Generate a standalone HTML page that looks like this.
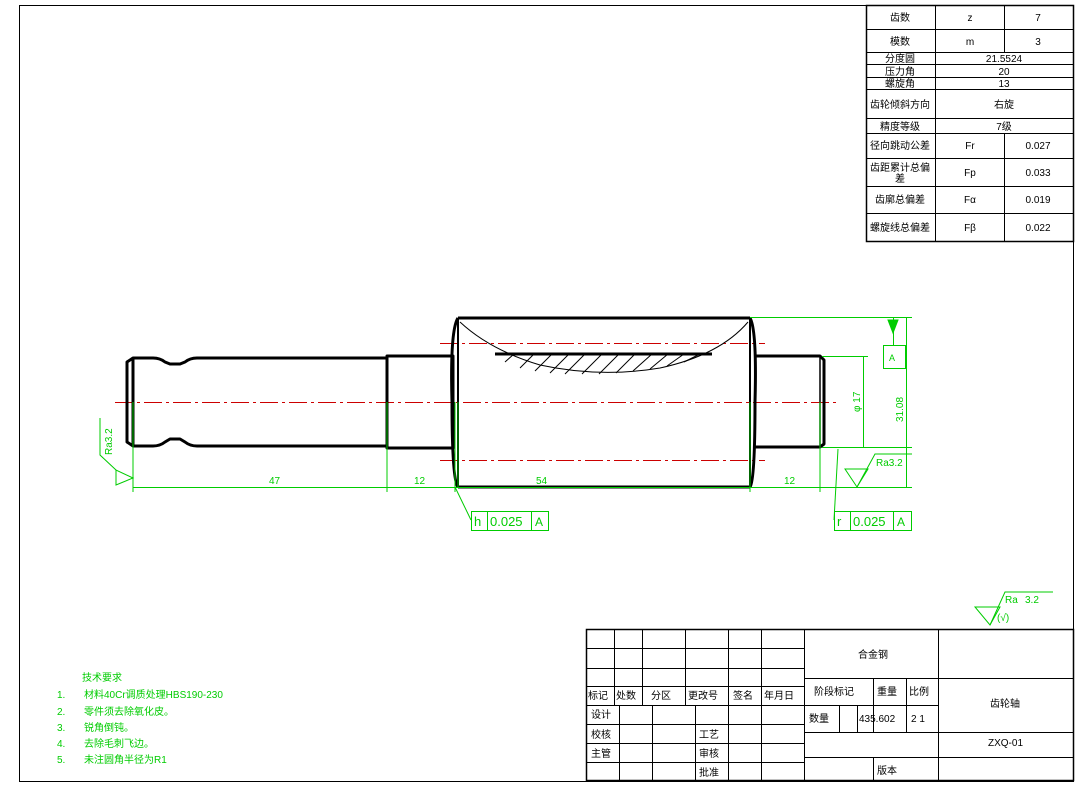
<!DOCTYPE html>
<html><head><meta charset="utf-8"><style>
html,body{margin:0;padding:0;background:#fff;}
svg{display:block;}
text{font-family:"Liberation Sans","Noto Sans CJK SC",sans-serif;}
</style></head><body>
<svg width="1083" height="787" viewBox="0 0 1083 787" xmlns="http://www.w3.org/2000/svg">
<rect x="19.5" y="5.5" width="1054" height="776" fill="none" stroke="#000" stroke-width="1"/>

<!-- parameter table -->
<g stroke="#000" stroke-width="1" fill="none">
<rect x="866.5" y="5.5" width="207" height="236" stroke-width="1.5"/>
<line x1="866" y1="29.5" x2="1073" y2="29.5"/>
<line x1="866" y1="52.5" x2="1073" y2="52.5"/>
<line x1="866" y1="64.5" x2="1073" y2="64.5"/>
<line x1="866" y1="77.5" x2="1073" y2="77.5"/>
<line x1="866" y1="89.5" x2="1073" y2="89.5"/>
<line x1="866" y1="118.5" x2="1073" y2="118.5"/>
<line x1="866" y1="133.5" x2="1073" y2="133.5"/>
<line x1="866" y1="158.5" x2="1073" y2="158.5"/>
<line x1="866" y1="186.5" x2="1073" y2="186.5"/>
<line x1="866" y1="213.5" x2="1073" y2="213.5"/>
<line x1="935.5" y1="5" x2="935.5" y2="241"/>
<line x1="1004.5" y1="5" x2="1004.5" y2="52"/>
<line x1="1004.5" y1="133" x2="1004.5" y2="241"/>
</g>
<g font-size="10" fill="#000" text-anchor="middle">
<text x="900" y="21">齿数</text><text x="970" y="21">z</text><text x="1038" y="21">7</text>
<text x="900" y="45">模数</text><text x="970" y="45">m</text><text x="1038" y="45">3</text>
<text x="900" y="62">分度圆</text><text x="1004" y="62">21.5524</text>
<text x="900" y="75">压力角</text><text x="1004" y="75">20</text>
<text x="900" y="87">螺旋角</text><text x="1004" y="87">13</text>
<text x="900" y="108">齿轮倾斜方向</text><text x="1004" y="108">右旋</text>
<text x="900" y="130">精度等级</text><text x="1004" y="130">7级</text>
<text x="900" y="149">径向跳动公差</text><text x="970" y="149">Fr</text><text x="1038" y="149">0.027</text>
<text x="900" y="171">齿距累计总偏</text><text x="900" y="182">差</text><text x="970" y="176">Fp</text><text x="1038" y="176">0.033</text>
<text x="900" y="203">齿廓总偏差</text><text x="970" y="203">Fα</text><text x="1038" y="203">0.019</text>
<text x="900" y="231">螺旋线总偏差</text><text x="970" y="231">Fβ</text><text x="1038" y="231">0.022</text>
</g>

<!-- title block -->
<g stroke="#000" stroke-width="1" fill="none">
<rect x="586.5" y="629.5" width="487" height="151" stroke-width="1.5"/>
<line x1="586" y1="648.5" x2="804" y2="648.5"/>
<line x1="586" y1="668.5" x2="804" y2="668.5"/>
<line x1="586" y1="686.5" x2="804" y2="686.5"/>
<line x1="586" y1="705.5" x2="804" y2="705.5"/>
<line x1="586" y1="724.5" x2="804" y2="724.5"/>
<line x1="586" y1="743.5" x2="804" y2="743.5"/>
<line x1="586" y1="762.5" x2="804" y2="762.5"/>
<line x1="614.5" y1="629" x2="614.5" y2="705"/>
<line x1="642.5" y1="629" x2="642.5" y2="705"/>
<line x1="685.5" y1="629" x2="685.5" y2="705"/>
<line x1="619.5" y1="705" x2="619.5" y2="781"/>
<line x1="652.5" y1="705" x2="652.5" y2="781"/>
<line x1="695.5" y1="705" x2="695.5" y2="781"/>
<line x1="728.5" y1="629" x2="728.5" y2="781"/>
<line x1="761.5" y1="629" x2="761.5" y2="781"/>
<line x1="804.5" y1="629" x2="804.5" y2="781"/>
<line x1="938.5" y1="629" x2="938.5" y2="781"/>
<line x1="804" y1="678.5" x2="1073" y2="678.5"/>
<line x1="804" y1="705.5" x2="938" y2="705.5"/>
<line x1="804" y1="732.5" x2="1073" y2="732.5"/>
<line x1="804" y1="757.5" x2="1073" y2="757.5"/>
<line x1="873.5" y1="678" x2="873.5" y2="732"/>
<line x1="906.5" y1="678" x2="906.5" y2="732"/>
<line x1="839.5" y1="705" x2="839.5" y2="732"/>
<line x1="857.5" y1="705" x2="857.5" y2="732"/>
<line x1="873.5" y1="757" x2="873.5" y2="781"/>
</g>
<g font-size="10" fill="#000">
<text x="588" y="699">标记</text><text x="616" y="699">处数</text><text x="651" y="699">分区</text>
<text x="688" y="699">更改号</text><text x="733" y="699">签名</text><text x="764" y="699">年月日</text>
<text x="591" y="718">设计</text><text x="591" y="738">校核</text><text x="591" y="757">主管</text>
<text x="699" y="738">工艺</text><text x="699" y="757">审核</text><text x="699" y="776">批准</text>
<text x="858" y="658">合金钢</text>
<text x="814" y="695">阶段标记</text><text x="877" y="695">重量</text><text x="909" y="695">比例</text>
<text x="809" y="722">数量</text><text x="859" y="722">435.602</text><text x="911" y="722">2 1</text>
<text x="877" y="774">版本</text>
<text x="990" y="707">齿轮轴</text>
<text x="988" y="746">ZXQ-01</text>
</g>

<!-- centerlines -->
<g stroke="#c00" stroke-width="1" stroke-dasharray="18,4,3,4" fill="none">
<line x1="115" y1="402.5" x2="837" y2="402.5"/>
<line x1="440" y1="343.5" x2="765" y2="343.5"/>
<line x1="440" y1="460.5" x2="765" y2="460.5"/>
</g>

<!-- shaft outline -->
<g stroke="#000" stroke-width="3" fill="none" stroke-linejoin="round">
<path d="M133,358 L153,358 Q160,358 165,362 L170,364 L180,364 L185,362 Q190,358 197,358 L387,358"/>
<path d="M133,446 L153,446 Q160,446 165,442 L170,439 L180,439 L185,442 Q190,446 197,446 L387,446"/>
<path d="M133,358 L127,362 L127,442 L133,446 Z"/>
<line x1="133" y1="358" x2="133" y2="446" stroke-width="1.5"/>
<rect x="387" y="356" width="66" height="92"/>
<path d="M458,318 L750,318"/>
<path d="M458,487 L750,487"/>
<path d="M458,318 Q450,330 452,402 Q452,480 458,487"/>
<path d="M458,318 L458,487" stroke-width="2"/>
<path d="M750,318 Q757,330 755,402 Q755,480 750,487"/>
<path d="M750,318 L750,487" stroke-width="2"/>
<path d="M755,356 L820,356 L824,360 L824,444 L820,447 L755,447"/>
<line x1="820" y1="356" x2="820" y2="447" stroke-width="1.5"/>
<line x1="495" y1="354" x2="712" y2="354"/>
</g>
<g stroke="#000" stroke-width="1" fill="none">
<path d="M460,322 Q490,350 540,365 Q600,378 660,368 Q720,355 748,322"/>
<g>
<line x1="520" y1="368" x2="534" y2="354"/><line x1="535" y1="371" x2="552" y2="354"/>
<line x1="550" y1="373" x2="569" y2="354"/><line x1="565" y1="374" x2="585" y2="354"/>
<line x1="582" y1="374" x2="602" y2="354"/><line x1="599" y1="374" x2="619" y2="354"/>
<line x1="616" y1="373" x2="635" y2="354"/><line x1="633" y1="371" x2="652" y2="354"/>
<line x1="650" y1="369" x2="668" y2="354"/><line x1="667" y1="366" x2="684" y2="354"/>
<line x1="684" y1="362" x2="700" y2="354"/><line x1="505" y1="362" x2="514" y2="354"/>
</g>
</g>

<!-- green dimensions -->
<g stroke="#0c0" stroke-width="1" fill="none">
<line x1="133" y1="402" x2="133" y2="492"/>
<line x1="387" y1="402" x2="387" y2="492"/>
<line x1="455" y1="402" x2="455" y2="492"/>
<line x1="458" y1="402" x2="458" y2="487"/>
<line x1="750" y1="402" x2="750" y2="492"/>
<line x1="820" y1="402" x2="820" y2="492"/>
<line x1="133" y1="487.5" x2="912" y2="487.5"/>
<line x1="750" y1="317.5" x2="912" y2="317.5"/>
<line x1="822" y1="356.5" x2="868" y2="356.5"/>
<line x1="822" y1="447.5" x2="912" y2="447.5"/>
<line x1="863.5" y1="356" x2="863.5" y2="447"/>
<line x1="906.5" y1="317" x2="906.5" y2="487"/>
<line x1="893.5" y1="317" x2="893.5" y2="345"/>
<rect x="883.5" y="345.5" width="22" height="23"/>
<path d="M888,320 L898,320 L893,333 Z" fill="#0c0"/>
<!-- right Ra -->
<path d="M845,469 L868,469 L857,487 Z"/>
<path d="M857,487 L875,454 L912,454"/>
<!-- left Ra -->
<path d="M116,470 L116,485 L133,478 Z"/>
<path d="M116,470 L100,455 L100,418"/>
<!-- tolerance frames -->
<rect x="471.5" y="511.5" width="77" height="19"/>
<line x1="487.5" y1="511" x2="487.5" y2="530"/><line x1="531.5" y1="511" x2="531.5" y2="530"/>
<line x1="455" y1="487" x2="471" y2="520"/>
<rect x="834.5" y="511.5" width="77" height="19"/>
<line x1="850.5" y1="511" x2="850.5" y2="530"/><line x1="893.5" y1="511" x2="893.5" y2="530"/>
<line x1="838" y1="449" x2="834" y2="520"/>
<!-- top right Ra -->
<path d="M975,607 L1000,607 L990,625 Z"/>
<path d="M990,625 L1005,592 L1053,592"/>
</g>
<g fill="#0c0" font-size="10">
<text x="269" y="484">47</text>
<text x="414" y="484">12</text>
<text x="536" y="484">54</text>
<text x="784" y="484">12</text>
<text x="876" y="466">Ra3.2</text>
<text x="889" y="361" font-size="9">A</text>
<text transform="translate(860,412) rotate(-90)">φ 17</text>
<text transform="translate(903,422) rotate(-90)">31.08</text>
<text transform="translate(112,455) rotate(-90)">Ra3.2</text>
<text x="474" y="526" font-size="13">h</text><text x="490" y="526" font-size="13">0.025</text><text x="535" y="526" font-size="12">A</text>
<text x="837" y="526" font-size="13">r</text><text x="853" y="526" font-size="13">0.025</text><text x="897" y="526" font-size="12">A</text>
<text x="1005" y="603">Ra</text><text x="1025" y="603">3.2</text>
<text x="997" y="621">(√)</text>
</g>
<g fill="#0c0" font-size="10">
<text x="82" y="681">技术要求</text>
<text x="57" y="698">1.</text><text x="84" y="698">材料40Cr调质处理HBS190-230</text>
<text x="57" y="715">2.</text><text x="84" y="715">零件须去除氧化皮。</text>
<text x="57" y="731">3.</text><text x="84" y="731">锐角倒钝。</text>
<text x="57" y="747">4.</text><text x="84" y="747">去除毛刺飞边。</text>
<text x="57" y="763">5.</text><text x="84" y="763">未注圆角半径为R1</text>
</g>
</svg>
</body></html>
